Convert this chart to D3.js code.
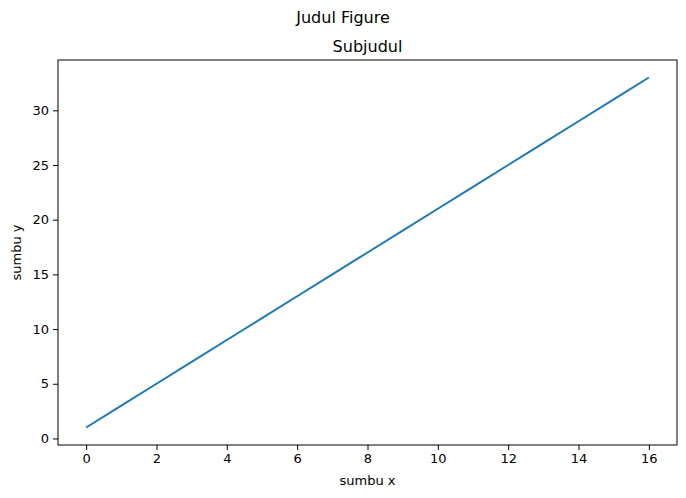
<!DOCTYPE html>
<html>
<head>
<meta charset="utf-8">
<script src="https://cdn.jsdelivr.net/npm/d3@7"></script>
<style>
body { margin: 0; background: #fff; }
text { font-family: "DejaVu Sans", sans-serif; }
</style>
</head>
<body>
<div id="chart"></div>
<script>
// data
const xValues = [0, 1, 2, 3, 4, 5, 6, 7, 8, 9, 10, 11, 12, 13, 14, 15, 16];
const yValues = [1, 3, 5, 7, 9, 11, 13, 15, 17, 19, 21, 23, 25, 27, 29, 31, 33];
const xTicks = [0, 2, 4, 6, 8, 10, 12, 14, 16];
const yTicks = [0, 5, 10, 15, 20, 25, 30];

const width = 686, height = 498;
const margin = { top: 60, right: 9, bottom: 53, left: 58 };

const svg = d3.select("#chart").append("svg")
    .attr("width", width)
    .attr("height", height);

const x = d3.scaleLinear().domain([-0.8, 16.8]).range([margin.left, width - margin.right]);
const y = d3.scaleLinear().domain([-0.6, 34.6]).range([height - margin.bottom, margin.top]);

const xAxis = svg.append("g")
    .attr("transform", `translate(0,${height - margin.bottom})`)
    .call(d3.axisBottom(x).tickValues(xTicks).tickSizeOuter(0).tickSize(5).tickPadding(4));
const yAxis = svg.append("g")
    .attr("transform", `translate(${margin.left},0)`)
    .call(d3.axisLeft(y).tickValues(yTicks).tickSizeOuter(0).tickSize(5).tickPadding(4));
[xAxis, yAxis].forEach(a => {
    a.select(".domain").remove();
    a.selectAll("text").attr("font-size", "13px").attr("fill", "#000")
        .style("font-family", "DejaVu Sans, sans-serif");
    a.selectAll("line").attr("stroke", "#000");
});

// frame
svg.append("rect")
    .attr("x", margin.left).attr("y", margin.top)
    .attr("width", width - margin.left - margin.right)
    .attr("height", height - margin.top - margin.bottom)
    .attr("fill", "none").attr("stroke", "#000").attr("stroke-width", 1);

const line = d3.line().x((d, i) => x(xValues[i])).y(d => y(d));
svg.append("path")
    .datum(yValues)
    .attr("d", line)
    .attr("fill", "none")
    .attr("stroke", "#1f77b4")
    .attr("stroke-width", 2);

svg.append("text").attr("x", width / 2).attr("y", 23)
    .attr("text-anchor", "middle").attr("font-size", "16px").text("Judul Figure");
svg.append("text").attr("x", (margin.left + width - margin.right) / 2).attr("y", 52)
    .attr("text-anchor", "middle").attr("font-size", "16px").text("Subjudul");
svg.append("text").attr("x", (margin.left + width - margin.right) / 2).attr("y", 485)
    .attr("text-anchor", "middle").attr("font-size", "13px").text("sumbu x");
svg.append("text")
    .attr("transform", `translate(21,${(margin.top + height - margin.bottom) / 2}) rotate(-90)`)
    .attr("text-anchor", "middle").attr("font-size", "13px").text("sumbu y");
</script>
</body>
</html>
